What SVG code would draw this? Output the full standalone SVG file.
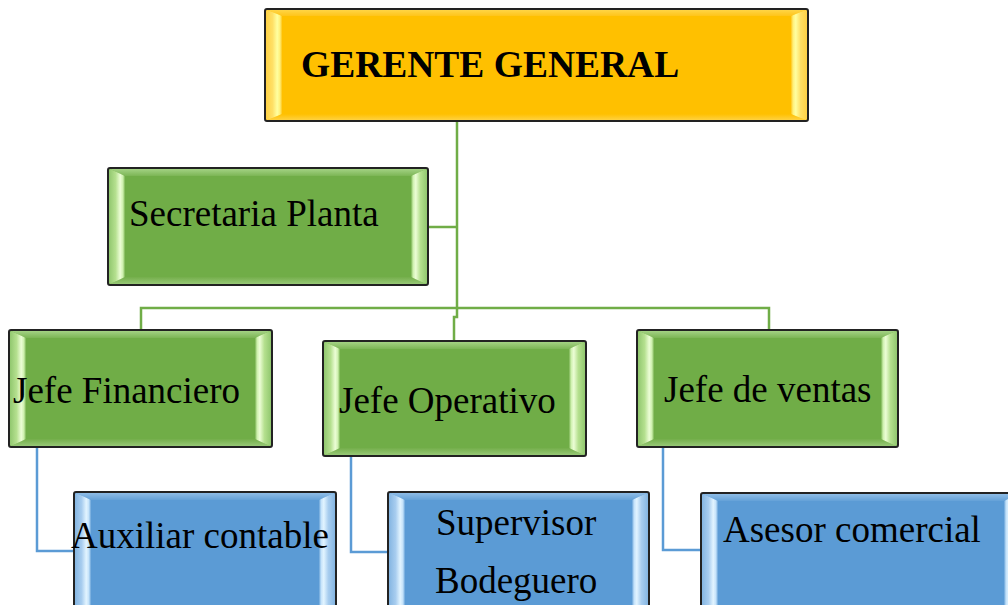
<svg xmlns="http://www.w3.org/2000/svg" width="1008" height="605" viewBox="0 0 1008 605">
<defs>
<linearGradient id="gL" x1="0" y1="0" x2="1" y2="0"><stop offset="0" stop-color="#8cc46a"/><stop offset="0.45" stop-color="#b5e08f"/><stop offset="0.72" stop-color="#ecfdd6"/><stop offset="0.88" stop-color="#cdf0ad"/><stop offset="1" stop-color="#78b250"/></linearGradient>
<linearGradient id="gR" x1="1" y1="0" x2="0" y2="0"><stop offset="0" stop-color="#8cc46a"/><stop offset="0.45" stop-color="#b5e08f"/><stop offset="0.72" stop-color="#ecfdd6"/><stop offset="0.88" stop-color="#cdf0ad"/><stop offset="1" stop-color="#78b250"/></linearGradient>
<linearGradient id="gT" x1="0" y1="0" x2="0" y2="1"><stop offset="0" stop-color="#a9d68a"/><stop offset="1" stop-color="#7cb555"/></linearGradient>
<linearGradient id="gB" x1="0" y1="0" x2="0" y2="1"><stop offset="0" stop-color="#74ae4b"/><stop offset="1" stop-color="#9ccc7c"/></linearGradient>
<linearGradient id="bL" x1="0" y1="0" x2="1" y2="0"><stop offset="0" stop-color="#7fb2e0"/><stop offset="0.45" stop-color="#a8cdef"/><stop offset="0.72" stop-color="#e2f4ff"/><stop offset="0.88" stop-color="#c4e2fa"/><stop offset="1" stop-color="#66a2d8"/></linearGradient>
<linearGradient id="bR" x1="1" y1="0" x2="0" y2="0"><stop offset="0" stop-color="#7fb2e0"/><stop offset="0.45" stop-color="#a8cdef"/><stop offset="0.72" stop-color="#e2f4ff"/><stop offset="0.88" stop-color="#c4e2fa"/><stop offset="1" stop-color="#66a2d8"/></linearGradient>
<linearGradient id="bT" x1="0" y1="0" x2="0" y2="1"><stop offset="0" stop-color="#94c0e8"/><stop offset="1" stop-color="#64a1d8"/></linearGradient>
<linearGradient id="yL" x1="0" y1="0" x2="1" y2="0"><stop offset="0" stop-color="#ffcf40"/><stop offset="0.45" stop-color="#ffe066"/><stop offset="0.72" stop-color="#ffffa0"/><stop offset="0.88" stop-color="#fff07a"/><stop offset="1" stop-color="#ffc61a"/></linearGradient>
<linearGradient id="yR" x1="1" y1="0" x2="0" y2="0"><stop offset="0" stop-color="#ffcf40"/><stop offset="0.45" stop-color="#ffe066"/><stop offset="0.72" stop-color="#ffffa0"/><stop offset="0.88" stop-color="#fff07a"/><stop offset="1" stop-color="#ffc61a"/></linearGradient>
<linearGradient id="yT" x1="0" y1="0" x2="0" y2="1"><stop offset="0" stop-color="#ffd84d"/><stop offset="1" stop-color="#ffc41a"/></linearGradient>
<linearGradient id="yB" x1="0" y1="0" x2="0" y2="1"><stop offset="0" stop-color="#ffc000"/><stop offset="1" stop-color="#ffd44a"/></linearGradient>
</defs>
<style>
.edge{fill:none;stroke:#222;stroke-width:2}
.green{fill:#70AD47}
.blue{fill:#5B9BD5}
.gold{fill:#FFC000}
.t{font-family:"Liberation Serif","Times New Roman",serif;font-size:37px;fill:#000}
.tb{font-family:"Liberation Serif","Times New Roman",serif;font-size:37.5px;font-weight:bold;fill:#000}
.cg{fill:none;stroke:#70AD47;stroke-width:2.5}
.cb{fill:none;stroke:#5B9BD5;stroke-width:2.5}
</style>
<rect width="1008" height="605" fill="#fff"/>
<g id="connectors">
<path class="cg" d="M457,121 V317 H454 V341"/>
<path class="cg" d="M428,227 H457"/>
<path class="cg" d="M141,330 V308 H769 V330"/>
<path class="cb" d="M37,447 V551 H74"/>
<path class="cb" d="M351,456 V552 H388"/>
<path class="cb" d="M663,447 V550 H701"/>
</g>
<g id="gerente-general">
<rect class="gold" x="265" y="9" width="543" height="112"/>
<polygon fill="url(#yT)" points="265,9 808,9 791,16 282,16"/>
<polygon fill="url(#yB)" points="265,121 808,121 791,114 282,114"/>
<polygon fill="url(#yL)" points="265,9 282,16 282,114 265,121"/>
<polygon fill="url(#yR)" points="808,9 791,16 791,114 808,121"/>
<rect class="edge" x="265" y="9" width="543" height="112" rx="2"/>
<text class="tb" x="301" y="77">GERENTE GENERAL</text>
</g>
<g id="secretaria-planta">
<rect class="green" x="108" y="168" width="320" height="117"/>
<polygon fill="url(#gT)" points="108,168 428,168 411,176 125,176"/>
<polygon fill="url(#gB)" points="108,285 428,285 411,277 125,277"/>
<polygon fill="url(#gL)" points="108,168 125,176 125,277 108,285"/>
<polygon fill="url(#gR)" points="428,168 411,176 411,277 428,285"/>
<rect class="edge" x="108" y="168" width="320" height="117" rx="2"/>
<text class="t" x="129" y="226">Secretaria Planta</text>
</g>
<g id="jefe-financiero">
<rect class="green" x="9" y="330" width="263" height="117"/>
<polygon fill="url(#gT)" points="9,330 272,330 255,338 26,338"/>
<polygon fill="url(#gB)" points="9,447 272,447 255,439 26,439"/>
<polygon fill="url(#gL)" points="9,330 26,338 26,439 9,447"/>
<polygon fill="url(#gR)" points="272,330 255,338 255,439 272,447"/>
<rect class="edge" x="9" y="330" width="263" height="117" rx="2"/>
<text class="t" x="13" y="403">Jefe Financiero</text>
</g>
<g id="jefe-operativo">
<rect class="green" x="323" y="341" width="263" height="115"/>
<polygon fill="url(#gT)" points="323,341 586,341 569,349 340,349"/>
<polygon fill="url(#gB)" points="323,456 586,456 569,448 340,448"/>
<polygon fill="url(#gL)" points="323,341 340,349 340,448 323,456"/>
<polygon fill="url(#gR)" points="586,341 569,349 569,448 586,456"/>
<rect class="edge" x="323" y="341" width="263" height="115" rx="2"/>
<text class="t" x="339" y="413">Jefe Operativo</text>
</g>
<g id="jefe-de-ventas">
<rect class="green" x="637" y="330" width="261" height="117"/>
<polygon fill="url(#gT)" points="637,330 898,330 881,338 654,338"/>
<polygon fill="url(#gB)" points="637,447 898,447 881,439 654,439"/>
<polygon fill="url(#gL)" points="637,330 654,338 654,439 637,447"/>
<polygon fill="url(#gR)" points="898,330 881,338 881,439 898,447"/>
<rect class="edge" x="637" y="330" width="261" height="117" rx="2"/>
<text class="t" x="664" y="402">Jefe de ventas</text>
</g>
<g id="auxiliar-contable">
<rect class="blue" x="74" y="492" width="262" height="130"/>
<polygon fill="url(#bT)" points="74,492 336,492 319,500 91,500"/>
<polygon fill="url(#bL)" points="74,492 91,500 91,614 74,622"/>
<polygon fill="url(#bR)" points="336,492 319,500 319,614 336,622"/>
<rect class="edge" x="74" y="492" width="262" height="130" rx="2"/>
<text class="t" x="71" y="548">Auxiliar contable</text>
</g>
<g id="supervisor-bodeguero">
<rect class="blue" x="388" y="492" width="261" height="130"/>
<polygon fill="url(#bT)" points="388,492 649,492 632,500 405,500"/>
<polygon fill="url(#bL)" points="388,492 405,500 405,614 388,622"/>
<polygon fill="url(#bR)" points="649,492 632,500 632,614 649,622"/>
<rect class="edge" x="388" y="492" width="261" height="130" rx="2"/>
<text class="t" x="436" y="535">Supervisor</text>
<text class="t" x="435" y="593">Bodeguero</text>
</g>
<g id="asesor-comercial">
<rect class="blue" x="701" y="493" width="320" height="130"/>
<polygon fill="url(#bT)" points="701,493 1021,493 1004,501 718,501"/>
<polygon fill="url(#bL)" points="701,493 718,501 718,615 701,623"/>
<polygon fill="url(#bR)" points="1021,493 1004,501 1004,615 1021,623"/>
<rect class="edge" x="701" y="493" width="320" height="130" rx="2"/>
<text class="t" x="723" y="542">Asesor comercial</text>
</g>
</svg>
